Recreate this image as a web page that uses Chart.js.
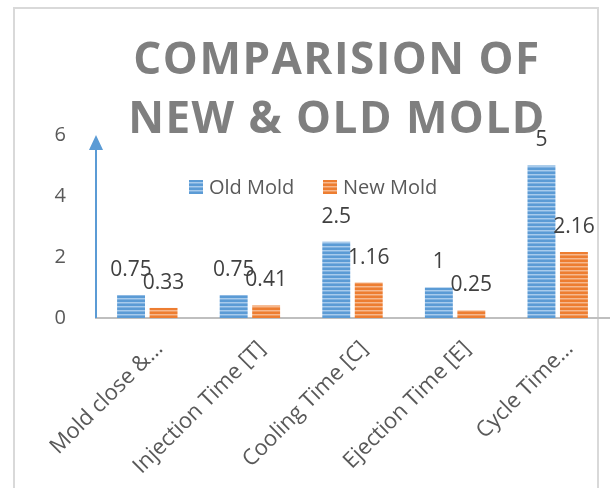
<!DOCTYPE html>
<html>
<head>
<meta charset="utf-8">
<script src="https://cdn.jsdelivr.net/npm/chart.js@4.4.1/dist/chart.umd.min.js"></script>
<style>
  html, body { margin: 0; padding: 0; background: #ffffff; }
  #wrap { position: relative; width: 611px; height: 488px; }
</style>
</head>
<body>
<div id="wrap"><canvas id="c" width="611" height="488"></canvas></div>
<script>
const titleLines = ['COMPARISION OF', 'NEW & OLD MOLD'];
const categories = ['Mold close &…', 'Injection Time [T]', 'Cooling Time [C]', 'Ejection Time [E]', 'Cycle Time…'];
const seriesNames = ['Old Mold', 'New Mold'];
const oldMold = [0.75, 0.75, 2.5, 1, 5];
const newMold = [0.33, 0.41, 1.16, 0.25, 2.16];
const yTicks = [0, 2, 4, 6];

function stripes(base, light, mid) {
  const c = document.createElement('canvas');
  c.width = 4; c.height = 4;
  const g = c.getContext('2d');
  g.fillStyle = base; g.fillRect(0, 0, 4, 4);
  g.fillStyle = light; g.fillRect(0, 2, 4, 1);
  g.fillStyle = mid; g.fillRect(0, 3, 4, 1);
  return g.createPattern(c, 'repeat');
}
const bluePat = stripes('#5b9bd5', '#a8cbec', '#7fb1e0');
const orangePat = stripes('#ed7d31', '#f6b88e', '#f19a5e');
const patterns = [bluePat, orangePat];

const FONT = '"Open Sans", "DejaVu Sans", sans-serif';

const decor = {
  id: 'decor',
  beforeDraw(chart) {
    const ctx = chart.ctx;
    ctx.save();
    ctx.strokeStyle = '#d9d9d9';
    ctx.lineWidth = 2;
    ctx.strokeRect(14, 8, 584, 520);
    ctx.restore();
  },
  afterDatasetsDraw(chart) {
    const ctx = chart.ctx;
    const a = chart.chartArea;
    ctx.save();
    // y axis arrow
    ctx.strokeStyle = '#5b9bd5';
    ctx.fillStyle = '#5b9bd5';
    ctx.lineWidth = 2;
    ctx.beginPath();
    ctx.moveTo(a.left, a.bottom);
    ctx.lineTo(a.left, a.top + 14);
    ctx.stroke();
    ctx.beginPath();
    ctx.moveTo(a.left - 7, a.top + 15);
    ctx.lineTo(a.left + 7, a.top + 15);
    ctx.lineTo(a.left, a.top);
    ctx.closePath();
    ctx.fill();
    // data labels
    ctx.font = '21px ' + FONT;
    ctx.fillStyle = '#404040';
    ctx.textAlign = 'center';
    ctx.textBaseline = 'middle';
    chart.data.datasets.forEach((ds, di) => {
      const meta = chart.getDatasetMeta(di);
      meta.data.forEach((bar, i) => {
        ctx.fillText(String(ds.data[i]), bar.x, bar.y - 25);
      });
    });
    // legend
    ctx.font = '20px ' + FONT;
    const lx = [189, 323];
    chart.data.datasets.forEach((ds, di) => {
      ctx.fillStyle = patterns[di];
      ctx.fillRect(lx[di], 180, 14, 14);
      ctx.fillStyle = '#595959';
      ctx.textAlign = 'left';
      ctx.fillText(ds.label, lx[di] + 20, 188);
    });
    ctx.restore();
  },
  afterDraw(chart) {
    const ctx = chart.ctx;
    ctx.save();
    ctx.font = 'bold 44px ' + FONT;
    ctx.fillStyle = '#7f7f7f';
    ctx.textAlign = 'center';
    ctx.textBaseline = 'alphabetic';
    try { ctx.letterSpacing = '1.5px'; } catch (e) {}
    ctx.fillText(titleLines[0], 337, 74);
    ctx.fillText(titleLines[1], 337, 133);
    ctx.restore();
  }
};

new Chart(document.getElementById('c'), {
  type: 'bar',
  data: {
    labels: categories,
    datasets: [
      { label: seriesNames[0], data: oldMold, backgroundColor: bluePat, borderWidth: 0 },
      { label: seriesNames[1], data: newMold, backgroundColor: orangePat, borderWidth: 0 }
    ]
  },
  options: {
    responsive: false,
    animation: false,
    devicePixelRatio: 1,
    layout: { padding: { top: 135, right: 2, left: 0, bottom: 0 } },
    datasets: { bar: { categoryPercentage: 0.633, barPercentage: 0.86 } },
    plugins: { legend: { display: false }, title: { display: false }, tooltip: { enabled: false } },
    scales: {
      x: {
        grid: { display: false },
        border: { display: true, color: '#bfbfbf', width: 2 },
        ticks: {
          autoSkip: false, minRotation: 45, maxRotation: 45,
          color: '#595959', font: { family: FONT, size: 22 }, padding: 10, labelOffset: 12
        },
        afterFit(s) { s.height = 170; }
      },
      y: {
        min: 0, max: 6,
        grid: { display: false },
        border: { display: false },
        afterBuildTicks(s) { s.ticks = yTicks.map(v => ({ value: v })); },
        ticks: { color: '#595959', font: { family: FONT, size: 20 }, padding: 22 },
        afterFit(s) { s.width = 96; }
      }
    }
  },
  plugins: [decor]
});
</script>
</body>
</html>
